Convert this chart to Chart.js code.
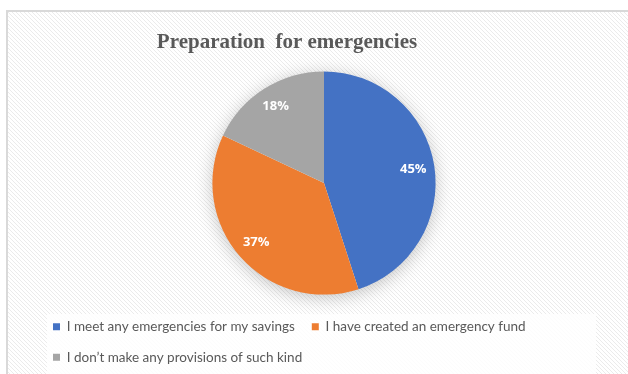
<!DOCTYPE html>
<html>
<head>
<meta charset="utf-8">
<script src="https://cdn.jsdelivr.net/npm/chart.js@4"></script>
<style>
  html, body { margin: 0; padding: 0; background: #fff; }
  canvas { display: block; }
</style>
</head>
<body>
<canvas id="prepChart" width="628" height="374"></canvas>
<script>
const categories = [
  "I meet any emergencies for my savings",
  "I have created an emergency fund",
  "I don\u2019t make any provisions of such kind"
];
const shares = [45, 37, 18];
const sliceColors = ["#4472c4", "#ed7d31", "#a5a5a5"];
const chartTitle = "Preparation  for emergencies";

// light diagonal hatching used for the chart background
function makeHatch(ctx) {
  const tile = document.createElement("canvas");
  tile.width = 4;
  tile.height = 4;
  const t = tile.getContext("2d");
  t.fillStyle = "#ffffff";
  t.fillRect(0, 0, 4, 4);
  t.strokeStyle = "#ebebeb";
  t.lineWidth = 1;
  t.beginPath();
  t.moveTo(0, 0);
  t.lineTo(4, 4);
  t.stroke();
  return ctx.createPattern(tile, "repeat");
}

const backdropPlugin = {
  id: "backdrop",
  beforeDraw(chart) {
    const { ctx, width, height, legend } = chart;
    ctx.save();
    ctx.fillStyle = "#ffffff";
    ctx.fillRect(0, 0, width, height);
    ctx.fillStyle = makeHatch(ctx);
    ctx.fillRect(7, 11, width - 7, height - 11);

    // frame
    ctx.fillStyle = "#d9d9d9";
    ctx.fillRect(6, 10, width - 6, 2);
    ctx.fillRect(6, 10, 2, height - 10);

    // plain panel behind the legend
    ctx.fillStyle = "rgba(255,255,255,0.85)";
    ctx.fillRect(legend.left + 11, legend.top + 11, legend.right - legend.left - 27, height - legend.top - 11);

    // title
    ctx.fillStyle = "#595959";
    ctx.font = "bold 21px 'Liberation Serif', 'Times New Roman', serif";
    ctx.textAlign = "center";
    ctx.textBaseline = "alphabetic";
    ctx.fillText(chartTitle, 287, 48);
    ctx.restore();
  },
  beforeDatasetsDraw(chart) {
    const arc = chart.getDatasetMeta(0).data[0];
    if (!arc) return;
    const { x, y, outerRadius } = arc.getProps(["x", "y", "outerRadius"], true);
    const ctx = chart.ctx;
    ctx.save();
    ctx.shadowColor = "rgba(0,0,0,0.25)";
    ctx.shadowBlur = 18;
    ctx.shadowOffsetY = 3;
    ctx.fillStyle = "#ffffff";
    ctx.beginPath();
    ctx.arc(x, y, outerRadius - 1, 0, Math.PI * 2);
    ctx.fill();
    ctx.restore();
  }
};

const sliceLabelPlugin = {
  id: "sliceLabels",
  afterDatasetsDraw(chart) {
    const { ctx } = chart;
    const meta = chart.getDatasetMeta(0);
    ctx.save();
    ctx.fillStyle = "#ffffff";
    ctx.font = "bold 13px 'Open Sans', sans-serif";
    ctx.textAlign = "center";
    ctx.textBaseline = "middle";
    meta.data.forEach((arc, i) => {
      const p = arc.getProps(["x", "y", "startAngle", "endAngle", "outerRadius"], true);
      const mid = (p.startAngle + p.endAngle) / 2;
      const r = p.outerRadius * 0.81;
      ctx.fillText(shares[i] + "%", p.x + Math.cos(mid) * r, p.y + Math.sin(mid) * r);
    });
    ctx.restore();
  }
};

const ctx = document.getElementById("prepChart").getContext("2d");
new Chart(ctx, {
  type: "pie",
  plugins: [backdropPlugin, sliceLabelPlugin],
  data: {
    labels: categories,
    datasets: [
      {
        data: shares,
        backgroundColor: sliceColors,
        borderWidth: 0,
        radius: "93%"
      }
    ]
  },
  options: {
    responsive: false,
    animation: false,
    layout: {
      padding: { top: 63, bottom: 0, left: 36, right: 16 }
    },
    plugins: {
      legend: {
        position: "bottom",
        align: "start",
        labels: {
          boxWidth: 7,
          boxHeight: 7,
          padding: 17,
          color: "#595959",
          font: { family: "Lato", size: 13.5 }
        }
      },
      tooltip: { enabled: false },
      title: { display: false }
    }
  }
});
</script>
</body>
</html>
